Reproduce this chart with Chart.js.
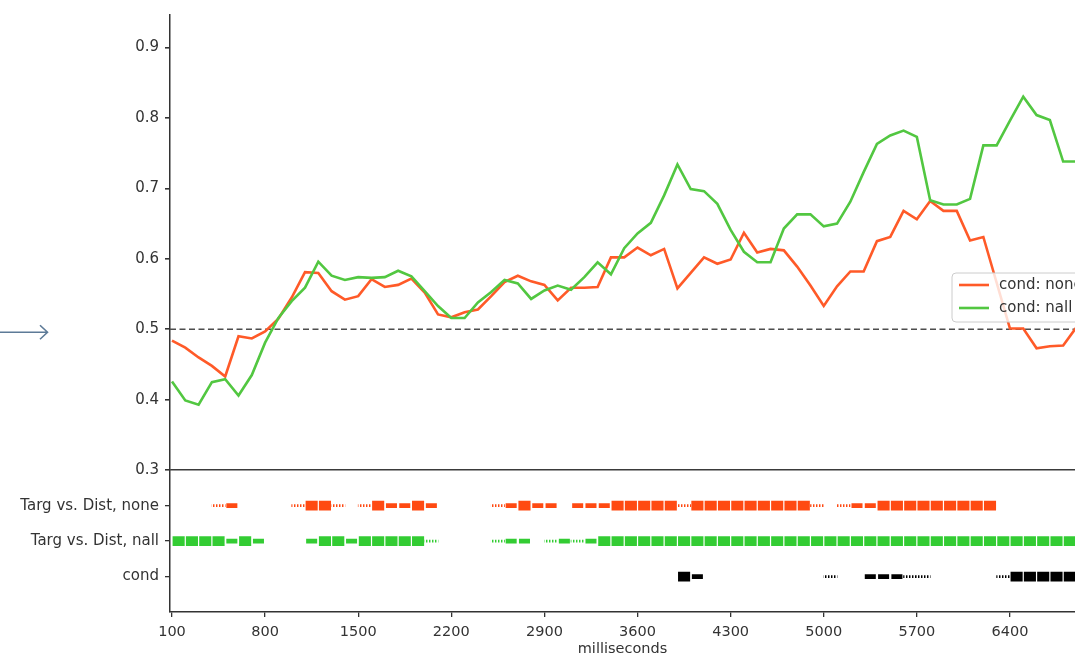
<!DOCTYPE html>
<html lang="en">
<head>
  <meta charset="UTF-8">
  <title>cond: none vs nall</title>
  <script src="https://cdn.jsdelivr.net/npm/chart.js@4.4.1/dist/chart.umd.min.js"></script>
  <style>
    html, body { margin: 0; padding: 0; background: #fff; }
    #wrap { width: 1075px; height: 658px; }
  </style>
</head>
<body>
<div id="wrap"><canvas id="viz"></canvas></div>
<script>
// time bins (ms)
const times = [100, 200, 300, 400, 500, 600, 700, 800, 900, 1000,
  1100, 1200, 1300, 1400, 1500, 1600, 1700, 1800, 1900, 2000,
  2100, 2200, 2300, 2400, 2500, 2600, 2700, 2800, 2900, 3000,
  3100, 3200, 3300, 3400, 3500, 3600, 3700, 3800, 3900, 4000,
  4100, 4200, 4300, 4400, 4500, 4600, 4700, 4800, 4900, 5000,
  5100, 5200, 5300, 5400, 5500, 5600, 5700, 5800, 5900, 6000,
  6100, 6200, 6300, 6400, 6500, 6600, 6700, 6800, 6900]

const condNone = [0.484, 0.474, 0.460, 0.448, 0.433, 0.490, 0.487, 0.497, 0.515, 0.545,
  0.581, 0.580, 0.554, 0.542, 0.547, 0.571, 0.560, 0.563, 0.572, 0.552,
  0.521, 0.517, 0.524, 0.528, 0.547, 0.567, 0.576, 0.568, 0.563, 0.541,
  0.559, 0.559, 0.560, 0.602, 0.602, 0.616, 0.605, 0.614, 0.558, 0.580,
  0.602, 0.593, 0.599, 0.637, 0.609, 0.614, 0.612, 0.589, 0.562, 0.533,
  0.561, 0.582, 0.582, 0.625, 0.631, 0.668, 0.656, 0.682, 0.668, 0.668,
  0.626, 0.631, 0.566, 0.501, 0.501, 0.473, 0.476, 0.477, 0.503]

const condNall = [0.426, 0.399, 0.393, 0.425, 0.429, 0.406, 0.435, 0.481, 0.516, 0.540,
  0.559, 0.596, 0.576, 0.570, 0.574, 0.573, 0.574, 0.583, 0.575, 0.554,
  0.533, 0.516, 0.516, 0.538, 0.553, 0.570, 0.565, 0.543, 0.555, 0.562,
  0.556, 0.574, 0.595, 0.578, 0.615, 0.636, 0.651, 0.690, 0.734, 0.699,
  0.696, 0.678, 0.641, 0.610, 0.595, 0.595, 0.643, 0.663, 0.663, 0.646,
  0.650, 0.681, 0.723, 0.763, 0.775, 0.782, 0.773, 0.683, 0.677, 0.677,
  0.685, 0.761, 0.761, 0.796, 0.830, 0.804, 0.797, 0.738, 0.738]

const chanceLevel = 0.5
const yTicks = [0.3, 0.4, 0.5, 0.6, 0.7, 0.8, 0.9]
const xTicks = [100, 800, 1500, 2200, 2900, 3600, 4300, 5000, 5700, 6400]

// significance rows, bottom to top; level per bin: 0 none, 1 weak, 2 medium, 3 strong
const rowLabels = ['cond', 'Targ vs. Dist, nall', 'Targ vs. Dist, none']
const sigNone = [0, 0, 0, 1, 2, 0, 0, 0, 0, 1,
  3, 3, 1, 0, 1, 3, 2, 2, 3, 2,
  0, 0, 0, 0, 1, 2, 3, 2, 2, 0,
  2, 2, 2, 3, 3, 3, 3, 3, 1, 3,
  3, 3, 3, 3, 3, 3, 3, 3, 1, 0,
  1, 2, 2, 3, 3, 3, 3, 3, 3, 3,
  3, 3, 0, 0, 0, 0, 0, 0, 0]
const sigNall = [3, 3, 3, 3, 2, 3, 2, 0, 0, 0,
  2, 3, 3, 2, 3, 3, 3, 3, 3, 1,
  0, 0, 0, 0, 1, 2, 2, 0, 1, 2,
  1, 2, 3, 3, 3, 3, 3, 3, 3, 3,
  3, 3, 3, 3, 3, 3, 3, 3, 3, 3,
  3, 3, 3, 3, 3, 3, 3, 3, 3, 3,
  3, 3, 3, 3, 3, 3, 3, 3, 3]
const sigCond = [0, 0, 0, 0, 0, 0, 0, 0, 0, 0,
  0, 0, 0, 0, 0, 0, 0, 0, 0, 0,
  0, 0, 0, 0, 0, 0, 0, 0, 0, 0,
  0, 0, 0, 0, 0, 0, 0, 0, 3, 2,
  0, 0, 0, 0, 0, 0, 0, 0, 0, 1,
  0, 0, 2, 2, 2, 1, 1, 0, 0, 0,
  0, 0, 1, 3, 3, 3, 3, 3, 3]

const binWidth = 100
const xMin = 85, xMax = 6889
const yMin = 0.3, yMax = 0.946

const RED = '#ff5a28', GREEN = '#52c741'
const rows = [
  { sig: sigCond, color: '#000000' },
  { sig: sigNall, color: '#33cc33' },
  { sig: sigNone, color: '#ff4a12' }
]

function dotted(color) {
  const c = document.createElement('canvas')
  c.width = 3
  c.height = 4
  const g = c.getContext('2d')
  g.fillStyle = color
  g.fillRect(0, 0, 1, 4)
  g.globalAlpha = 0.45
  g.fillRect(1, 0, 1, 4)
  return g.createPattern(c, 'repeat')
}

// thickness in px, inset in ms on each side of a bin
const levels = [
  { level: 3, thickness: 9, inset: 7 },
  { level: 2, thickness: 4, inset: 11 },
  { level: 1, thickness: 2, inset: 0 }
]

const sigDatasets = []
rows.forEach((row, r) => {
  levels.forEach(lv => {
    sigDatasets.push({
      type: 'bar',
      indexAxis: 'y',
      xAxisID: 'x',
      yAxisID: 'y2',
      grouped: false,
      barThickness: lv.thickness,
      borderWidth: 0,
      backgroundColor: lv.level === 1 ? dotted(row.color) : row.color,
      data: times
        .map((t, i) => row.sig[i] === lv.level ? { y: r, x: [t + lv.inset, t + binWidth - lv.inset] } : null)
        .filter(Boolean),
      order: 5
    })
  })
})

const legendBox = {
  id: 'legendBox',
  afterDatasetsDraw(chart) {
    const { ctx } = chart
    const items = chart.data.datasets.filter(d => d.showInLegend)
    const left = 952, top = 273, rowH = 23
    ctx.save()
    ctx.beginPath()
    ctx.roundRect(left, top, 170, 26 + rowH * (items.length - 1), 4)
    ctx.fillStyle = 'rgba(255,255,255,0.8)'
    ctx.fill()
    ctx.strokeStyle = '#cccccc'
    ctx.lineWidth = 1
    ctx.stroke()
    ctx.font = "15px 'DejaVu Sans'"
    ctx.textBaseline = 'middle'
    items.forEach((d, i) => {
      const y = top + 12 + i * rowH
      ctx.strokeStyle = d.borderColor
      ctx.lineWidth = d.borderWidth
      ctx.beginPath()
      ctx.moveTo(left + 7, y)
      ctx.lineTo(left + 37, y)
      ctx.stroke()
      ctx.fillStyle = '#333333'
      ctx.fillText(d.label, left + 47, y)
    })
    ctx.restore()
  }
}

const sideArrow = {
  id: 'sideArrow',
  afterDraw(chart) {
    const { ctx } = chart
    const y = chart.scales.y.getPixelForValue(chanceLevel) + 3
    ctx.save()
    ctx.strokeStyle = '#5d7a97'
    ctx.lineWidth = 1.6
    ctx.beginPath()
    ctx.moveTo(0, y)
    ctx.lineTo(47, y)
    ctx.moveTo(40, y - 7)
    ctx.lineTo(47.5, y)
    ctx.lineTo(40, y + 7)
    ctx.stroke()
    ctx.restore()
  }
}

Chart.defaults.font.family = "'DejaVu Sans', sans-serif"
Chart.defaults.font.size = 15
Chart.defaults.color = '#333333'

new Chart(document.getElementById('viz'), {
  type: 'line',
  data: {
    datasets: [
      {
        label: 'cond: none',
        showInLegend: true,
        data: times.map((t, i) => ({ x: t, y: condNone[i] })),
        borderColor: RED,
        borderWidth: 2.6,
        pointRadius: 0,
        yAxisID: 'y',
        order: 2
      },
      {
        label: 'cond: nall',
        showInLegend: true,
        data: times.map((t, i) => ({ x: t, y: condNall[i] })),
        borderColor: GREEN,
        borderWidth: 2.6,
        pointRadius: 0,
        yAxisID: 'y',
        order: 1
      },
      {
        label: 'chance',
        data: [{ x: xMin, y: chanceLevel }, { x: xMax, y: chanceLevel }],
        borderColor: '#4d4d4d',
        borderWidth: 1.6,
        borderDash: [6, 3.5],
        pointRadius: 0,
        yAxisID: 'y',
        order: 10
      },
      ...sigDatasets
    ]
  },
  options: {
    responsive: true,
    maintainAspectRatio: false,
    animation: false,
    layout: { padding: { top: 10, left: 0, right: 0, bottom: 0 } },
    plugins: {
      legend: { display: false },
      tooltip: { enabled: false }
    },
    scales: {
      // listed first so the layout stacks it below the line panel
      y2: {
        type: 'linear',
        position: 'left',
        stack: 'rows',
        stackWeight: 143,
        min: -1,
        max: 3,
        offset: false,
        afterBuildTicks: s => { s.ticks = rowLabels.map((l, i) => ({ value: i })) },
        afterFit: s => { s.width = 170 },
        ticks: { padding: 6, callback: v => rowLabels[v] },
        grid: { offset: false, drawOnChartArea: false, tickLength: 5, tickColor: '#333333', lineWidth: 1.3 },
        border: { color: '#333333', width: 1.5 }
      },
      y: {
        type: 'linear',
        position: 'left',
        stack: 'rows',
        stackWeight: 459,
        min: yMin,
        max: yMax,
        afterBuildTicks: s => { s.ticks = yTicks.map(v => ({ value: v })) },
        afterFit: s => { s.width = 170 },
        ticks: { padding: 6, callback: v => v.toFixed(1) },
        grid: {
          color: c => (c.tick && c.tick.value === yMin) ? '#3a3a3a' : 'rgba(0,0,0,0)',
          lineWidth: 1.6,
          tickLength: 5,
          tickColor: '#333333'
        },
        border: { color: '#333333', width: 1.5 }
      },
      x: {
        type: 'linear',
        min: xMin,
        max: xMax,
        offset: false,
        afterBuildTicks: s => { s.ticks = xTicks.map(v => ({ value: v })) },
        afterFit: s => { s.height = 46 },
        ticks: { padding: 7, maxRotation: 0, autoSkip: false, font: { size: 14.5 }, callback: v => String(v) },
        grid: { offset: false, drawOnChartArea: false, tickLength: 5, tickColor: '#333333', lineWidth: 1.3 },
        border: { color: '#333333', width: 1.5 },
        title: { display: true, text: 'milliseconds', font: { size: 14.5 }, padding: { top: 0, bottom: 0 } }
      }
    }
  },
  plugins: [legendBox, sideArrow]
})
</script>
</body>
</html>
